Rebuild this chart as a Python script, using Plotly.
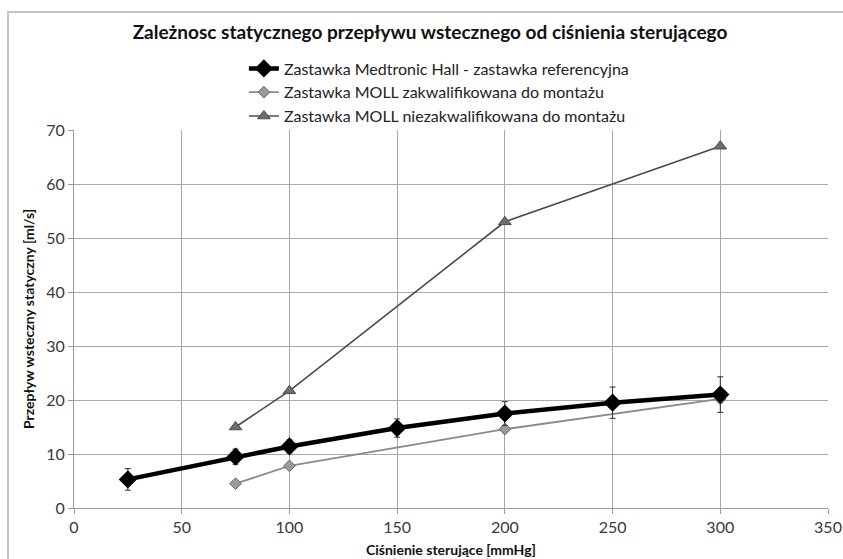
import plotly.graph_objects as go

x_med = [25, 75, 100, 150, 200, 250, 300]
y_med = [5.3, 9.5, 11.4, 14.8, 17.5, 19.5, 21.0]
err_med = [2.0, 1.4, 1.2, 1.7, 2.2, 2.9, 3.3]

x_q = [75, 100, 200, 300]
y_q = [4.5, 7.8, 14.6, 20.2]

x_nq = [75, 100, 200, 300]
y_nq = [15.0, 21.7, 53.0, 67.0]

names = ["Zastawka Medtronic Hall - zastawka referencyjna",
         "Zastawka MOLL zakwalifikowana do montażu",
         "Zastawka MOLL niezakwalifikowana do montażu"]

FONT = "Lato, Open Sans, sans-serif"

fig = go.Figure()
fig.add_trace(go.Scatter(
    x=x_q, y=y_q, name=names[1], mode="lines+markers", legendrank=2,
    line=dict(color="#8a8a8a", width=1.8),
    marker=dict(symbol="diamond", size=9, color="#9a9a9a", line=dict(color="#6a6a6a", width=1)),
))
fig.add_trace(go.Scatter(
    x=x_nq, y=y_nq, name=names[2], mode="lines+markers", legendrank=3,
    line=dict(color="#4a4a4a", width=1.6),
    marker=dict(symbol="triangle-up", size=11, color="#6e6e6e", line=dict(color="#4a4a4a", width=1)),
))
fig.add_trace(go.Scatter(
    x=x_med, y=y_med, name=names[0], mode="lines+markers", legendrank=1,
    line=dict(color="#000000", width=4.5),
    marker=dict(symbol="diamond", size=14, color="#000000"),
    error_y=dict(type="data", array=err_med, visible=True, color="#333333", thickness=1, width=3),
))

fig.update_layout(
    width=843, height=559,
    margin=dict(l=74, r=15, t=130, b=51, autoexpand=False),
    paper_bgcolor="white", plot_bgcolor="white",
    font=dict(family=FONT, color="#222222", size=16),
    title=dict(text="<b>Zależnosc statycznego przepływu wstecznego od ciśnienia sterującego</b>",
               x=430/843, xanchor="center", y=1 - 32/559, yanchor="middle",
               font=dict(size=19, color="#111111", family=FONT)),
    showlegend=True,
    legend=dict(x=0.2253, y=1.2077, xanchor="left", yanchor="top", traceorder="normal",
                bgcolor="rgba(0,0,0,0)", font=dict(size=16, color="#222222"),
                tracegroupgap=0, itemwidth=30),
    xaxis=dict(range=[0, 350], dtick=50, tick0=0, showgrid=True, gridcolor="#a8a8a8", gridwidth=1,
               showline=True, linecolor="#9a9a9a", linewidth=1, ticks="outside", ticklen=5,
               tickcolor="#9a9a9a", zeroline=False, automargin=False,
               tickfont=dict(size=16, color="#3a3a3a")),
    yaxis=dict(range=[0, 70], dtick=10, showgrid=True, gridcolor="#a8a8a8", gridwidth=1,
               showline=True, linecolor="#9a9a9a", linewidth=1, ticks="outside", ticklen=5,
               tickcolor="#9a9a9a", zeroline=False, automargin=False,
               tickfont=dict(size=16, color="#3a3a3a")),
    annotations=[
        dict(text="<b>Ciśnienie sterujące [mmHg]</b>", xref="paper", yref="paper",
             x=0.5, y=(508 - 549) / 378, xanchor="center", yanchor="middle", showarrow=False,
             font=dict(size=14, color="#111111", family=FONT)),
        dict(text="<b>Przepływ wsteczny statyczny [ml/s]</b>", xref="paper", yref="paper",
             x=(28 - 74) / 754, y=0.5, xanchor="center", yanchor="middle", showarrow=False,
             textangle=-90, font=dict(size=14, color="#111111", family=FONT)),
    ],
    shapes=[dict(type="rect", xref="paper", yref="paper",
                 x0=(8 - 74) / 754, x1=(860 - 74) / 754, y0=(508 - 570) / 378, y1=(508 - 12) / 378,
                 line=dict(color="#c4c4c4", width=2), layer="below")],
)

fig.write_html("out.html")
